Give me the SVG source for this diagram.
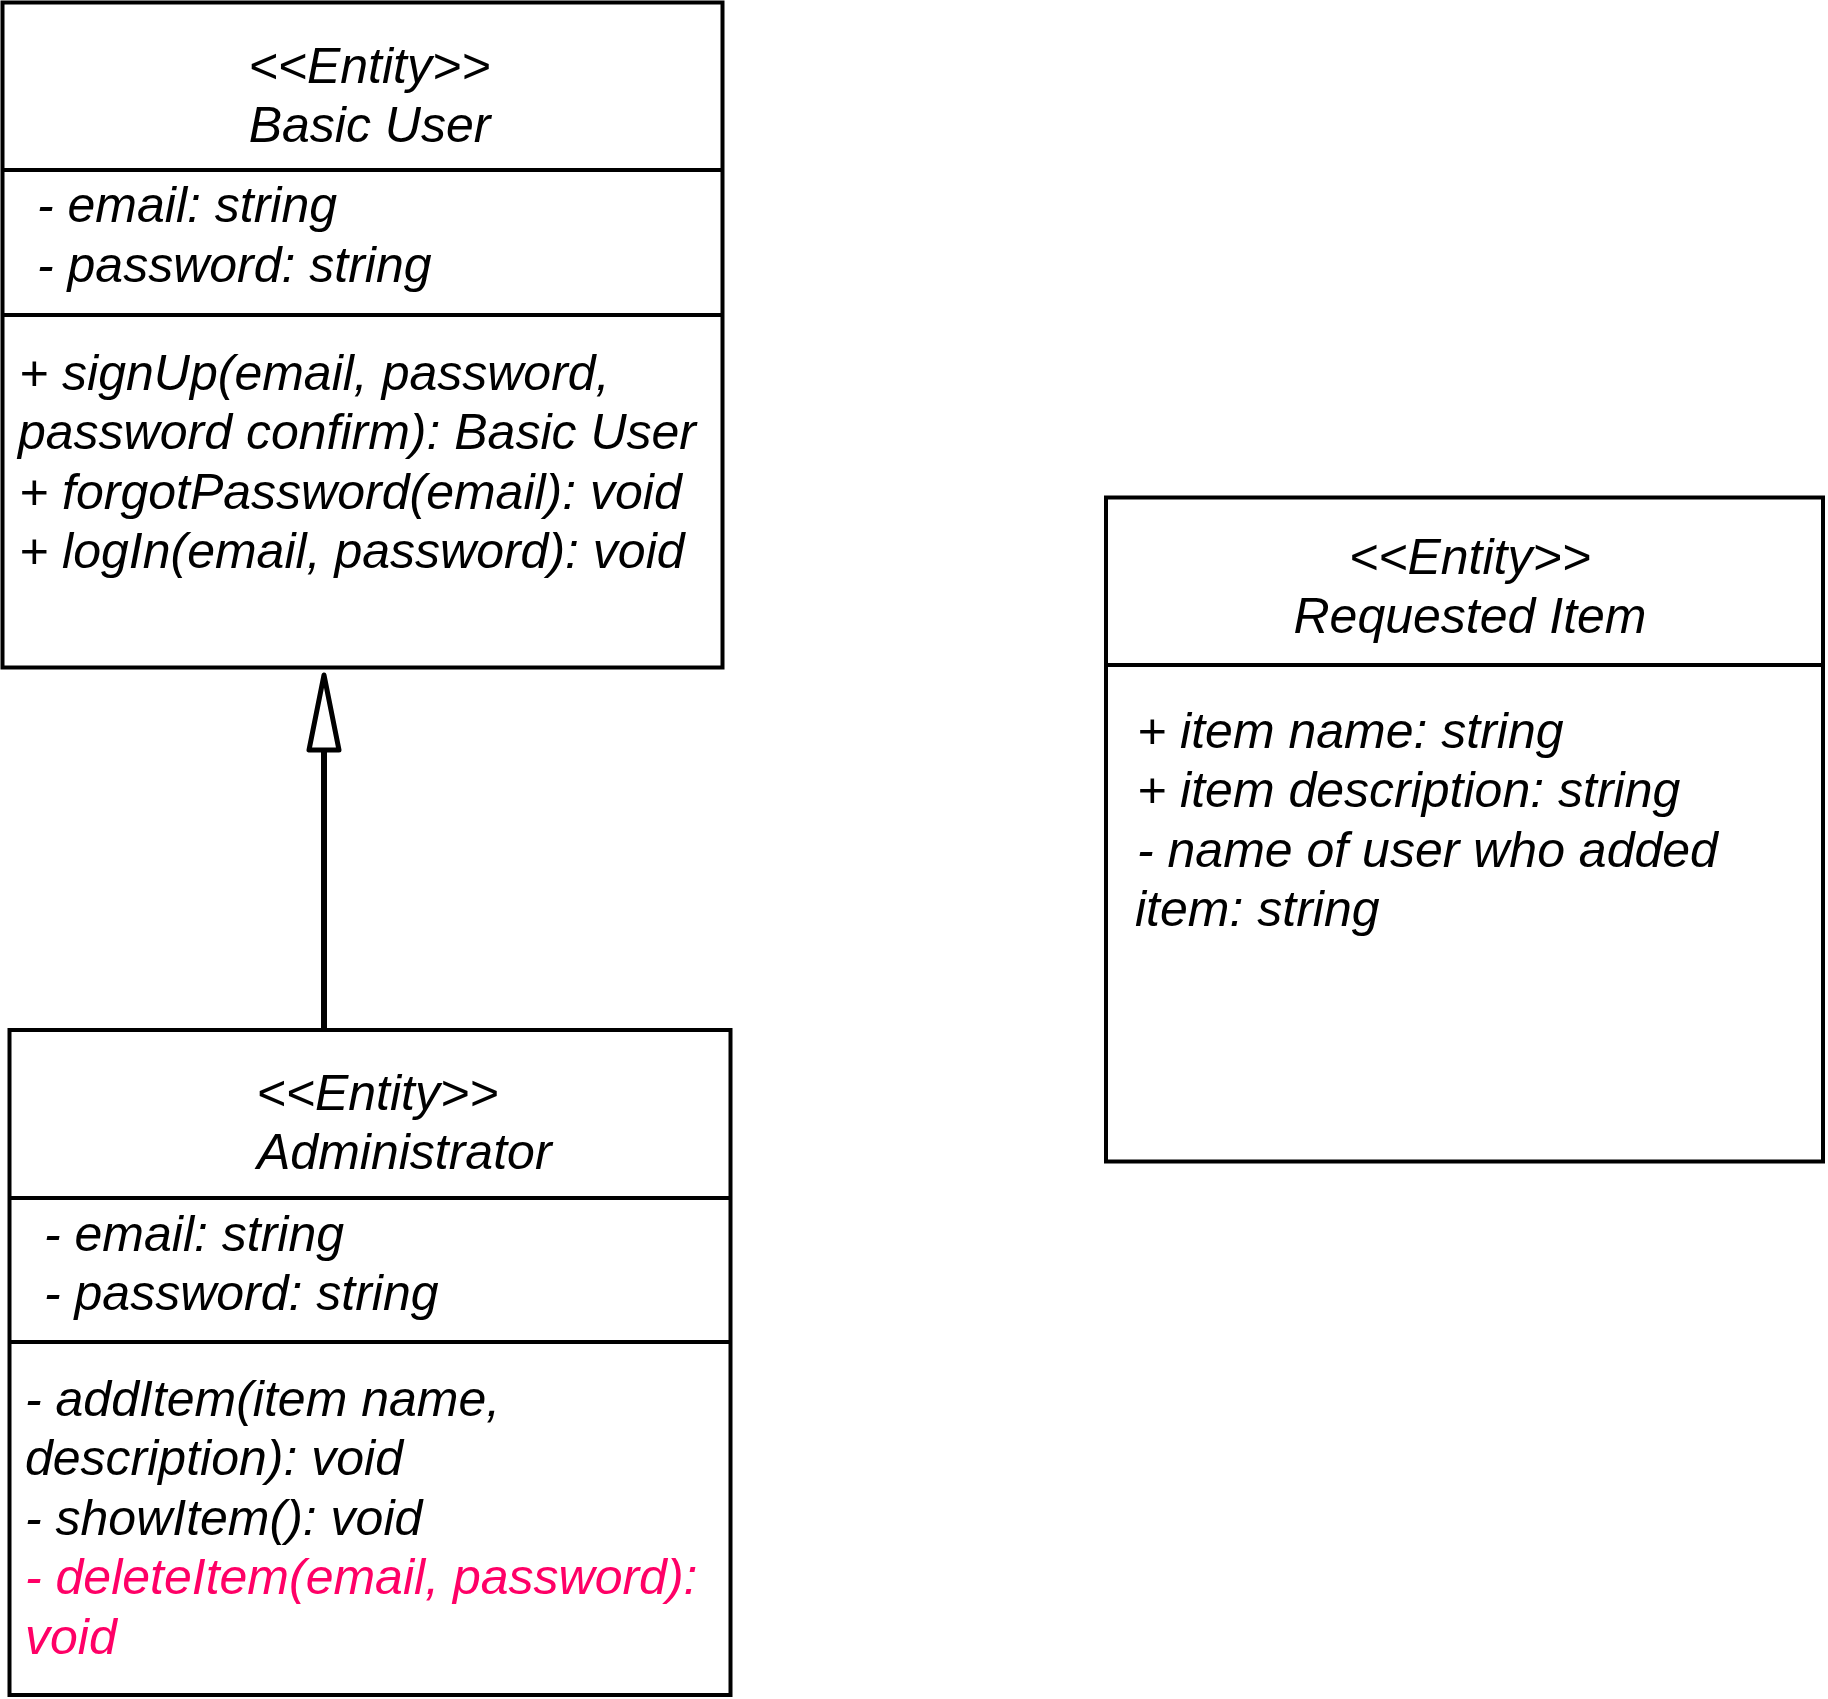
<svg xmlns="http://www.w3.org/2000/svg" width="1828" height="1699" viewBox="0 0 1828 1699">
<style>
.box{fill:#fff;stroke:#000;stroke-width:4}
.div{stroke:#000;stroke-width:4}
text{font-family:"Liberation Sans",Arial,sans-serif;font-style:italic;font-size:50px;fill:#000}
.c{text-anchor:middle}
.red{fill:#FF0066}
</style>
<rect width="1828" height="1699" fill="#fff"/>
<g id="connectors">
<line x1="324" y1="1029" x2="324" y2="750" stroke="#000" stroke-width="6"/>
<polygon points="324,675 309,750 339,750" fill="#fff" stroke="#000" stroke-width="5" stroke-linejoin="round"/>
</g>
<g id="basic-user">
<rect class="box" x="2.5" y="2.5" width="720" height="665"/>
<line class="div" x1="2.5" y1="170" x2="722.5" y2="170"/>
<line class="div" x1="2.5" y1="315" x2="722.5" y2="315"/>
<text class="c" x="369.5" y="82.5">&lt;&lt;Entity&gt;&gt;</text>
<text class="c" x="369.5" y="142">Basic User</text>
<text x="37" y="222">- email: string</text>
<text x="37" y="281.5">- password: string</text>
<text x="19" y="389.5">+ signUp(email, password,</text>
<text x="18" y="449">password confirm): Basic User</text>
<text x="19" y="508.5">+ forgotPassword(email): void</text>
<text x="19" y="568">+ logIn(email, password): void</text>
</g>
<g id="administrator">
<rect class="box" x="9.5" y="1030" width="721" height="665"/>
<line class="div" x1="9.5" y1="1198" x2="730.5" y2="1198"/>
<line class="div" x1="9.5" y1="1342" x2="730.5" y2="1342"/>
<text class="c" x="377.5" y="1110">&lt;&lt;Entity&gt;&gt;</text>
<text x="257" y="1169">Administrator</text>
<text x="44" y="1250.5">- email: string</text>
<text x="44" y="1310">- password: string</text>
<text x="25" y="1415.5">- addItem(item name,</text>
<text x="25" y="1475">description): void</text>
<text x="25" y="1534.5">- showItem(): void</text>
<text class="red" x="25" y="1594">- deleteItem(email, password):</text>
<text class="red" x="25" y="1653.5">void</text>
</g>
<g id="requested-item">
<rect class="box" x="1106" y="497.5" width="717" height="664"/>
<line class="div" x1="1106" y1="665" x2="1823" y2="665"/>
<text class="c" x="1470" y="573.5">&lt;&lt;Entity&gt;&gt;</text>
<text class="c" x="1470" y="633">Requested Item</text>
<text x="1137" y="747.5">+ item name: string</text>
<text x="1137" y="807">+ item description: string</text>
<text x="1137" y="866.5">- name of user who added</text>
<text x="1135" y="926">item: string</text>
</g>
</svg>
